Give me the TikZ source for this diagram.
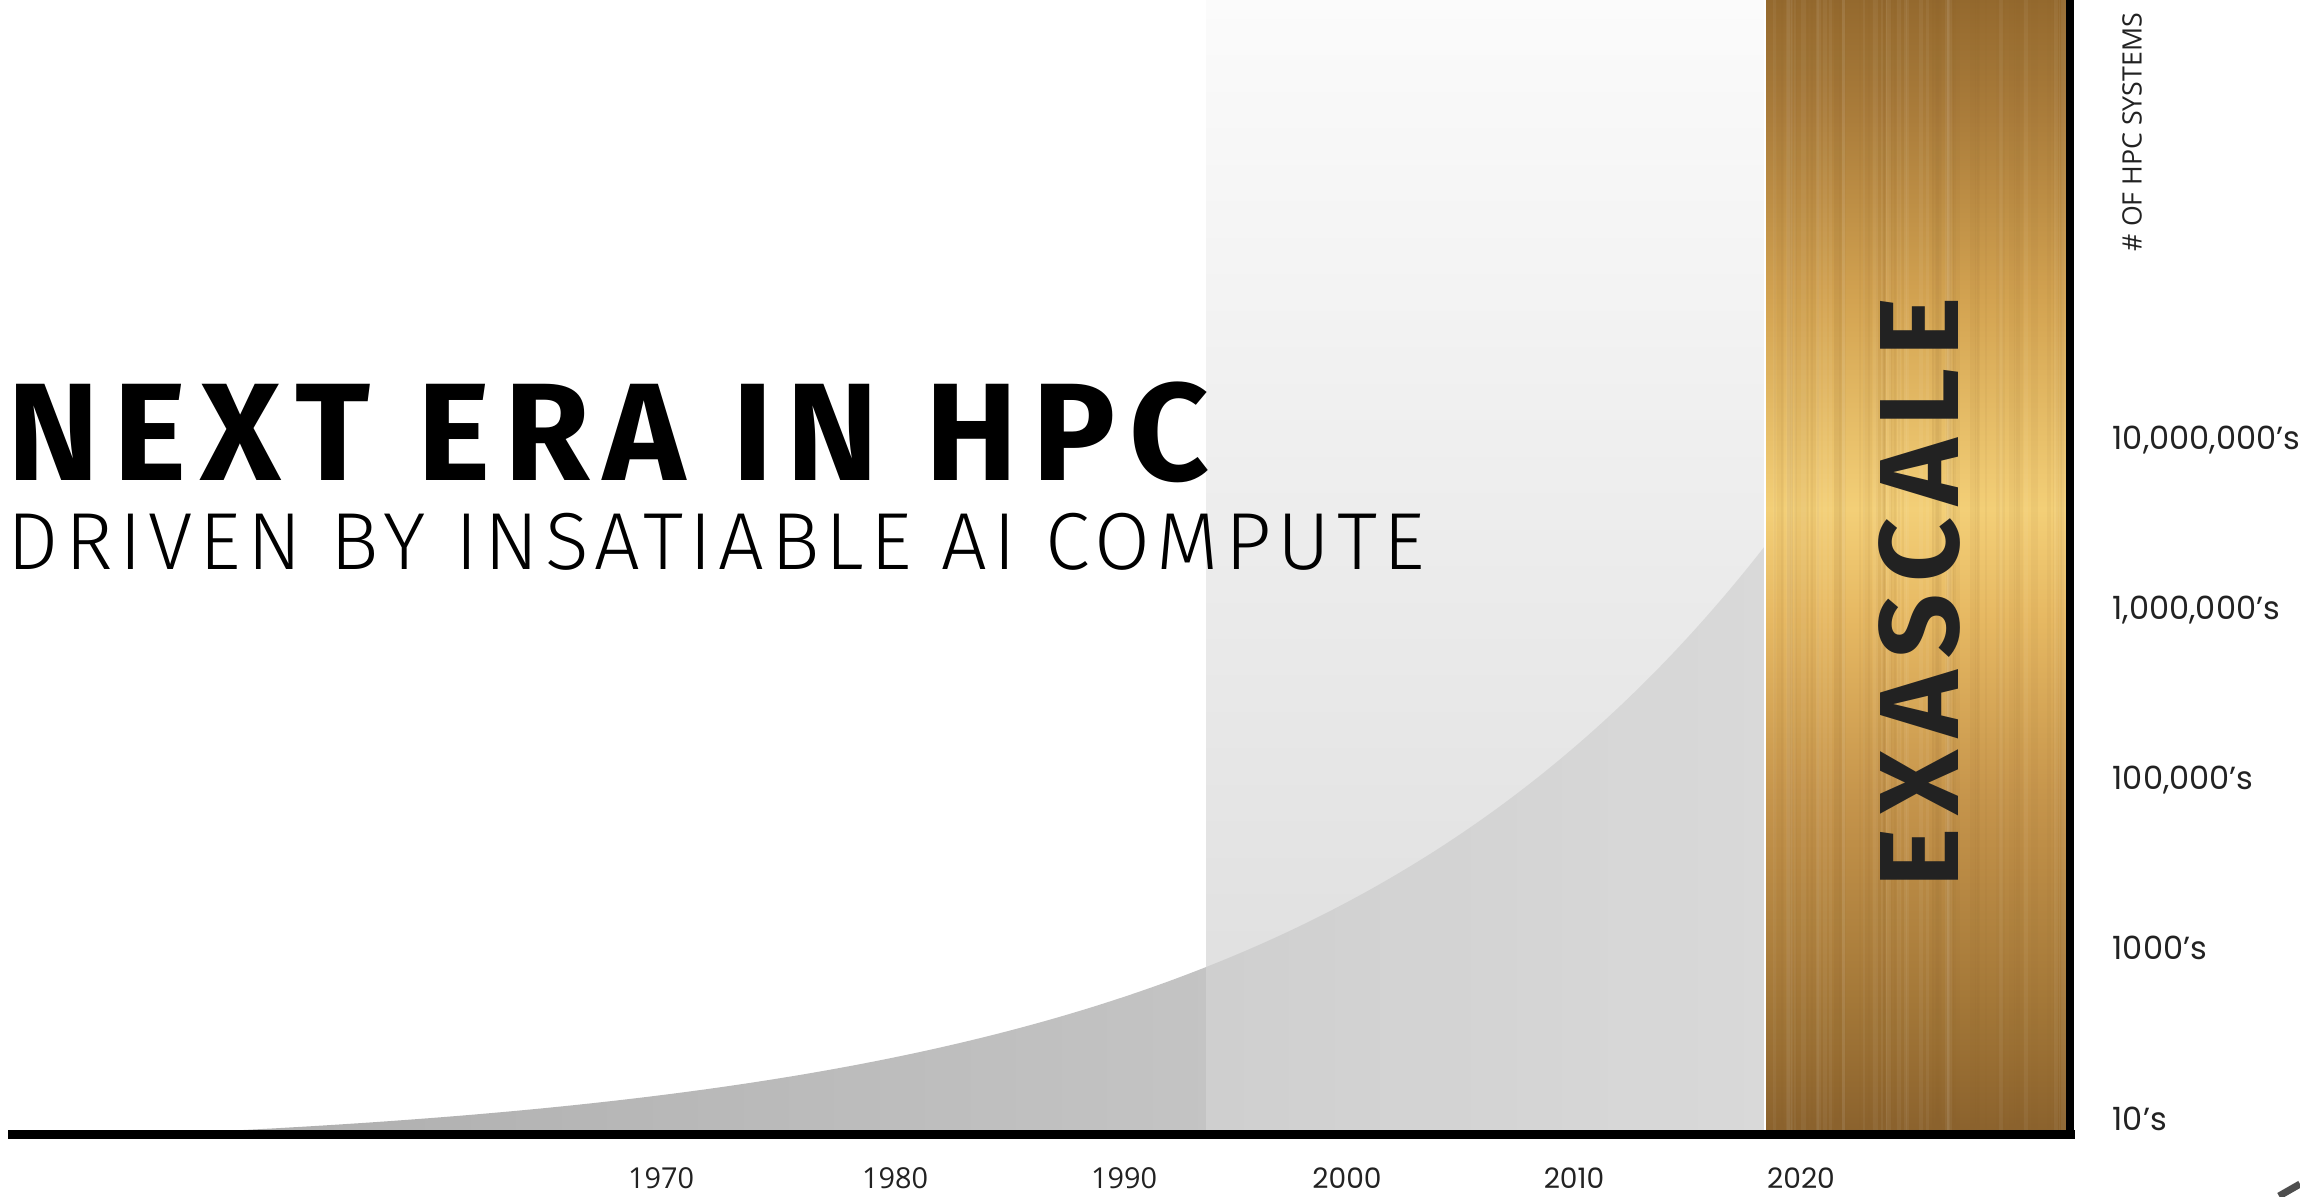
\documentclass[tikz,border=0pt]{standalone}
\usepackage{fontspec}
\usetikzlibrary{positioning}
\newfontfamily\titlefont{Fira Sans}[LetterSpace=10]
\newfontfamily\subfont{Fira Sans Light}[LetterSpace=8]
\newfontfamily\bandfont{Fira Sans}[LetterSpace=11]
\newfontfamily\labelfont{Open Sans}
\newfontfamily\numfont{Poppins}

\definecolor{gold0}{HTML}{8B622D}
\definecolor{gold1}{HTML}{A47838}
\definecolor{gold2}{HTML}{C5944B}
\definecolor{gold3}{HTML}{E6B862}
\definecolor{gold4}{HTML}{F3CF77}
\definecolor{gold5}{HTML}{D3A351}
\definecolor{gold6}{HTML}{AB7D3B}
\definecolor{gold7}{HTML}{94692E}
\definecolor{panelTop}{HTML}{FBFBFB}
\definecolor{panelBot}{HTML}{DCDCDC}
\definecolor{curveL}{HTML}{AEAEAE}
\definecolor{curveR}{HTML}{D0D0D0}
\definecolor{inkdark}{HTML}{222222}

\pgfdeclareverticalshading{goldshade}{100bp}{color(0bp)=(gold0); color(25bp)=(gold0);
  color(30.8bp)=(gold1); color(39.6bp)=(gold2); color(47.6bp)=(gold3);
  color(52.5bp)=(gold4); color(61.7bp)=(gold5); color(69.7bp)=(gold6);
  color(75bp)=(gold7); color(100bp)=(gold7)}

\begin{document}
\begin{tikzpicture}[x=0.01cm, y=-0.01cm,
  yearlbl/.style={anchor=base, inner sep=0pt, text=inkdark, font=\labelfont\fontsize{8.2}{9}\selectfont},
  yearlbltwo/.style={anchor=base, inner sep=0pt, text=inkdark, font=\numfont\fontsize{8}{9}\selectfont},
  countlbl/.style={anchor=base west, inner sep=0pt, text=inkdark, font=\numfont\fontsize{9.1}{10}\selectfont},
  axisline/.style={black, line cap=rect}]
\useasboundingbox (0,0) rectangle (2300,1196);
\fill[white] (0,0) rectangle (2300,1196);

% light panel behind the last decades
\shade[top color=panelTop, bottom color=panelBot] (1206,0) rectangle (1766,1131);

% growth curve
\shade[left color=curveL, right color=curveR] (220,1131)
  -- plot[domain=220:1766, samples=150, smooth] (\x,{1131-187.6*exp(0.0021*(\x-1206))+23.7})
  -- (1766,1131) -- cycle;
\begin{scope}
\clip (1206,0) rectangle (1766,1131);
\fill[white, opacity=0.2] (220,1131)
  -- plot[domain=220:1766, samples=150, smooth] (\x,{1131-187.6*exp(0.0021*(\x-1206))+23.7})
  -- (1766,1131) -- cycle;
\end{scope}

% gold band
\shade[shading=goldshade] (1766,0) rectangle (2068,1131);
\pgfmathsetseed{42}
\foreach \i in {1,...,60}{
  \pgfmathsetmacro\sx{1770+rnd*294}
  \pgfmathsetmacro\sw{0.3+rnd*1.6}
  \draw[line width=\sw pt, gold0, opacity=0.06] (\sx,0) -- (\sx,1131);
}
\foreach \i in {1,...,30}{
  \pgfmathsetmacro\sx{1770+rnd*294}
  \pgfmathsetmacro\sw{0.3+rnd*1.2}
  \draw[line width=\sw pt, white, opacity=0.05] (\sx,0) -- (\sx,1131);
}
\draw[white, line width=0.6pt] (1765,0) -- (1765,1131);

\node[rotate=90, inner sep=0pt, text=inkdark, font=\bandfont\bfseries\fontsize{32}{34}\selectfont]
  (exascale) at (1919,592) {EXASCALE};

% axes
\coordinate (ytop) at (2070,3);
\coordinate (corner) at (2070,1134.5);
\coordinate (xstart) at (12,1134.5);
\draw[axisline, line width=2.55pt] (xstart) -- (corner);
\draw[axisline, line width=2.27pt] (corner) -- (ytop);

% headline
\node[anchor=base west, inner sep=0pt, font=\titlefont\bfseries\fontsize{39.5}{42}\selectfont]
  (title) at (7,480) {NEXT ERA IN HPC};
\node[anchor=base west, inner sep=0pt, font=\subfont\fontsize{23}{25}\selectfont]
  (subtitle) at (7,569) {DRIVEN BY INSATIABLE AI COMPUTE};

% years
\node[yearlbl] (y1970) at (661,1188) {1970};
\node[yearlbl] (y1980) at (895,1188) {1980};
\node[yearlbl] (y1990) at (1124,1188) {1990};
\node[yearlbltwo] (y2000) at (1347,1188) {2000};
\node[yearlbltwo] (y2010) at (1574,1188) {2010};
\node[yearlbltwo] (y2020) at (1801,1188) {2020};

% counts
\node[countlbl] (c7) at (2112,449) {10,000,000’s};
\node[countlbl] (c6) at (2112,619) {1,000,000’s};
\node[countlbl] (c5) at (2112,789) {100,000’s};
\node[countlbl] (c3) at (2112,959) {1000’s};
\node[countlbl] (c1) at (2112,1130) {10’s};
\node[rotate=90, inner sep=0pt, text=inkdark, font=\labelfont\fontsize{7.6}{8}\selectfont]
  (axistitle) at (2132,132) {\# OF HPC SYSTEMS};

% stray mark in the corner
\coordinate (m1) at (2279,1196);
\coordinate (m2) at (2300,1184);
\draw[inkdark!80, line width=2pt] (m1) -- (m2);
\end{tikzpicture}
\end{document}
